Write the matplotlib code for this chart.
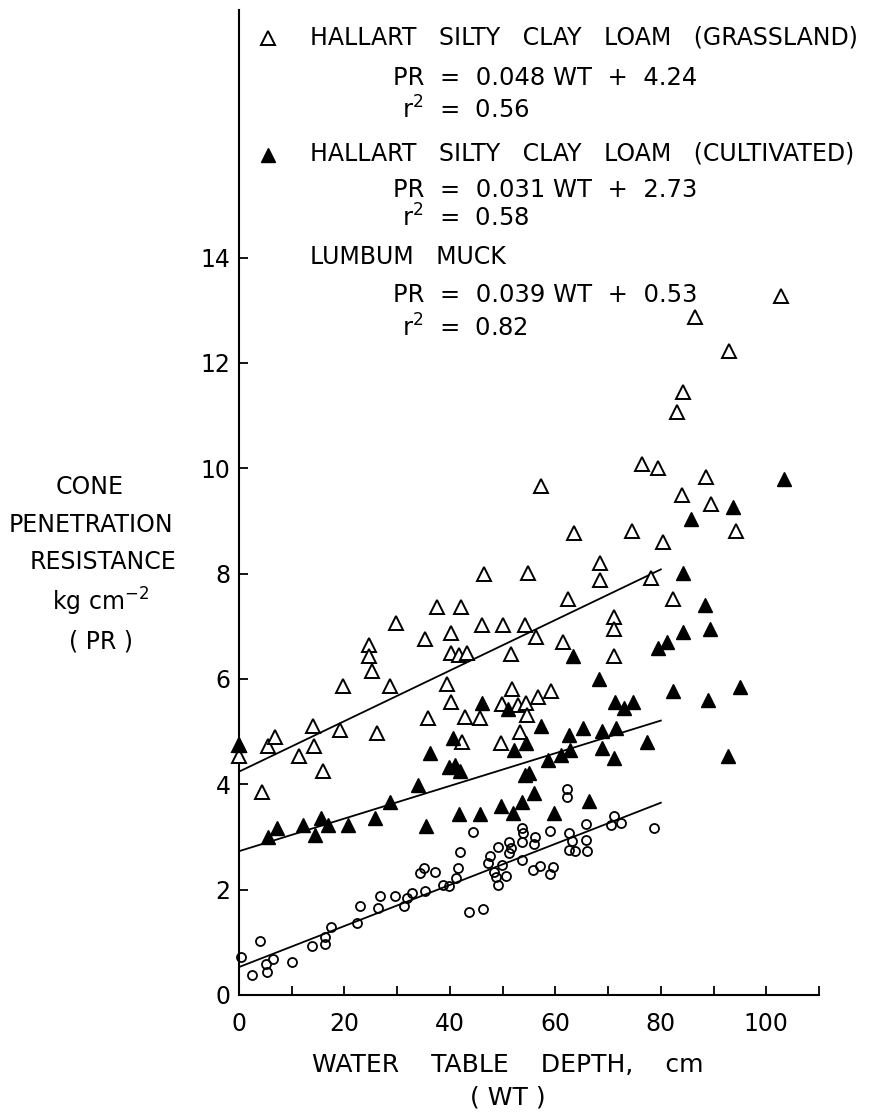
import matplotlib.pyplot as plt
import numpy as np

# Hallart silty clay loam, grassland (open triangles)
grass_wt = [0, 0, 4.3, 5.5, 6.8, 11.3, 14, 14.3, 16, 19.2, 19.8, 24.7, 24.7, 25.3, 26.2,
            28.7, 29.8, 35.3, 35.8, 37.5, 39.4, 40.2, 40.2, 40.3, 41.7, 42.1, 42.3, 42.8,
            43.2, 45.8, 46.1, 46.5, 49.7, 49.8, 50.1, 51.6, 51.7, 53, 53.2, 54.2, 54.4,
            54.7, 54.8, 56.4, 56.7, 57.3, 59.2, 61.5, 62.4, 63.6, 68.5, 68.5, 71.1, 71.1,
            71.2, 74.5, 76.4, 78.2, 79.4, 80.5, 82.3, 83, 84, 84.2, 86.4, 88.5, 89.5, 93,
            94.2, 102.8]
grass_pr = [4.53, 4.75, 3.86, 4.72, 4.9, 4.53, 5.11, 4.73, 4.26, 5.04, 5.86, 6.65, 6.43, 6.16, 4.98,
            5.87, 7.07, 6.75, 5.25, 7.36, 5.91, 6.88, 6.5, 5.57, 6.45, 7.37, 4.81, 5.28,
            6.5, 5.25, 7.03, 8.0, 4.79, 5.52, 7.02, 6.47, 5.81, 5.5, 5.0, 7.02, 5.55,
            5.32, 8.01, 6.8, 5.65, 9.66, 5.78, 6.7, 7.52, 8.78, 8.21, 7.88, 7.17, 6.94,
            6.43, 8.8, 10.08, 7.91, 10.0, 8.6, 7.52, 11.07, 9.49, 11.44, 12.87, 9.83, 9.33, 12.22,
            8.8, 13.27]

# Hallart silty clay loam, cultivated (filled triangles)
cult_wt = [0, 5.5, 7.2, 12.1, 14.5, 15.6, 16.8, 20.7, 25.8, 28.7, 34, 35.4, 36.2, 40.5,
           39.8, 40.9, 41.9, 41.7, 45.7, 46, 49.6, 51, 51.9, 52.1, 53.6, 54.5, 54.3, 55,
           56, 57.2, 58.6, 59.8, 61, 62.7, 62.6, 63.4, 65.3, 66.4, 68.2, 68.8, 68.8, 71.1,
           71.5, 71.3, 73, 74.7, 77.4, 79.4, 81.2, 82.3, 84.3, 84.3, 85.8, 88.3, 89.3, 89,
           92.8, 93.6, 95.1, 103.4]
cult_pr = [4.75, 3.0, 3.17, 3.23, 3.04, 3.36, 3.23, 3.23, 3.36, 3.67, 3.99, 3.2, 4.6, 4.88,
           4.33, 4.37, 4.25, 3.43, 3.43, 5.55, 3.58, 5.43, 3.46, 4.66, 3.67, 4.79, 4.18, 4.22,
           3.84, 5.1, 4.46, 3.46, 4.55, 4.66, 4.94, 6.43, 5.07, 3.68, 5.99, 5.02, 4.69, 4.5,
           5.07, 5.57, 5.45, 5.57, 4.81, 6.59, 6.7, 5.77, 6.9, 8.02, 9.03, 7.4, 6.94, 5.61,
           4.53, 9.26, 5.84, 9.79]

# Lumbum muck (open circles)
muck_wt = [0.4, 2.4, 4, 5.1, 5.4, 6.5, 10, 13.8, 16.4, 16.4, 17.4, 22.4, 23, 26.4, 26.8,
           29.6, 31.3, 31.8, 32.8, 34.3, 35.1, 35.3, 37.2, 38.6, 39.9, 41.1, 41.6, 41.9,
           43.6, 44.3, 46.2, 47.2, 47.6, 48.3, 48.7, 49.1, 49.2, 49.8, 50.6, 51.3, 51.5,
           51.3, 53.6, 53.8, 53.6, 53.6, 55.7, 56, 56.2, 57.1, 58.9, 58.9, 59.6, 62.3,
           62.3, 62.5, 63.2, 62.5, 63.8, 65.8, 65.8, 66, 70.6, 71.1, 72.5, 78.7]
muck_pr = [0.72, 0.38, 1.03, 0.59, 0.44, 0.68, 0.63, 0.93, 1.1, 0.97, 1.29, 1.37, 1.69, 1.65, 1.88,
           1.88, 1.69, 1.84, 1.93, 2.32, 2.42, 1.97, 2.34, 2.08, 2.07, 2.22, 2.41, 2.72,
           1.58, 3.1, 1.63, 2.51, 2.64, 2.34, 2.24, 2.81, 2.09, 2.47, 2.26, 2.91, 2.79,
           2.7, 3.17, 3.08, 2.91, 2.57, 2.38, 2.87, 3.0, 2.45, 3.12, 2.3, 2.43, 3.92,
           3.76, 3.08, 2.93, 2.76, 2.74, 3.25, 2.95, 2.74, 3.23, 3.4, 3.27, 3.17]

# regression lines  PR = a*WT + b, drawn over 0..80 cm
fit_slopes = [0.048, 0.031, 0.039]
fit_icepts = [4.24, 2.73, 0.53]
fit_r2 = [0.56, 0.58, 0.82]
fit_end = 80

W, H = 871, 1114
plt.rcParams['font.family'] = 'DejaVu Sans'
plt.rcParams['mathtext.default'] = 'regular'
fig = plt.figure(figsize=(W / 100, H / 100), dpi=100)
ax = fig.add_axes([239 / W, 1 - 995 / H, (819 - 239) / W, (995 - 10) / H])


def fx(px):
    return px / W


def fy(py):
    return 1 - py / H


ax.plot(grass_wt, grass_pr, ls='none', marker='^', ms=9.5, mfc='white', mec='black',
        mew=1.4, clip_on=False, zorder=3)
ax.plot(cult_wt, cult_pr, ls='none', marker='^', ms=9.5, mfc='black', mec='black',
        mew=1.0, clip_on=False, zorder=4)
ax.plot(muck_wt, muck_pr, ls='none', marker='o', ms=6.5, mfc='none', mec='black',
        mew=1.3, clip_on=False, zorder=3)

xs = np.array([0, fit_end])
for a, b in zip(fit_slopes, fit_icepts):
    ax.plot(xs, a * xs + b, color='black', lw=1.3, zorder=2)

ax.set_xlim(0, 110)
ax.set_ylim(0, 18.7)
for s in ['top', 'right']:
    ax.spines[s].set_visible(False)
for s in ['left', 'bottom']:
    ax.spines[s].set_linewidth(1.5)

ax.set_xticks(range(0, 101, 20))
ax.set_xticks(range(10, 111, 20), minor=True)
ax.set_yticks(range(0, 15, 2))
ax.tick_params(axis='both', which='both', direction='in', length=6.5, width=1.3,
               labelsize=17)
ax.tick_params(axis='x', which='major', pad=12)
ax.tick_params(axis='y', pad=6)

# axis titles
fig.text(fx(508), fy(1065), 'WATER    TABLE    DEPTH,    cm', ha='center', va='center',
         fontsize=18)
fig.text(fx(508), fy(1098), '( WT )', ha='center', va='center', fontsize=18)
ylab = [('CONE', 90, 487), ('PENETRATION', 91, 525), ('RESISTANCE', 103, 562),
        ('kg cm$^{-2}$', 101, 602), ('( PR )', 101, 642)]
for t, px, py in ylab:
    fig.text(fx(px), fy(py), t, ha='center', va='center', fontsize=17)

# legend block with equations
ax.plot([fx(268)], [fy(38)], marker='^', ms=9.5, mfc='white', mec='black', mew=1.4,
        transform=fig.transFigure, clip_on=False)
ax.plot([fx(268)], [fy(155)], marker='^', ms=9.5, mfc='black', mec='black',
        transform=fig.transFigure, clip_on=False)
names = ['HALLART   SILTY   CLAY   LOAM   (GRASSLAND)',
         'HALLART   SILTY   CLAY   LOAM   (CULTIVATED)',
         'LUMBUM   MUCK']
name_y = [37, 153, 257]
eq_y = [78, 190, 295]
r2_y = [110, 218, 328]
for i in range(3):
    fig.text(fx(310), fy(name_y[i]), names[i], ha='left', va='center', fontsize=17)
    fig.text(fx(393), fy(eq_y[i]),
             'PR  =  %.3f WT  +  %.2f' % (fit_slopes[i], fit_icepts[i]),
             ha='left', va='center', fontsize=17.5)
    fig.text(fx(402), fy(r2_y[i]), 'r$^2$  =  %.2f' % fit_r2[i],
             ha='left', va='center', fontsize=17.5)

fig.savefig('out.png', dpi=100)
